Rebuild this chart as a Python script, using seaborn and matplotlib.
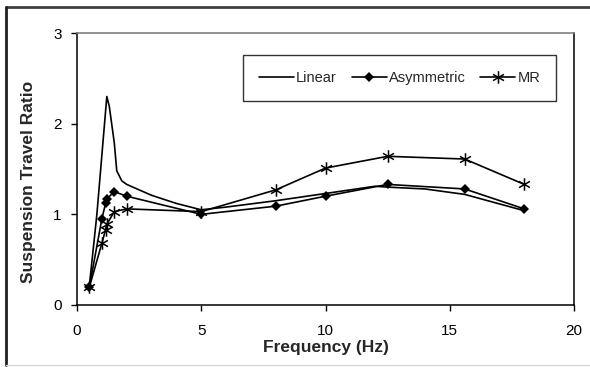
import numpy as np
import pandas as pd
import matplotlib
matplotlib.use("Agg")
import matplotlib.pyplot as plt
from matplotlib.lines import Line2D
from matplotlib.path import Path
import seaborn as sns

# values
linear_f = [0.5, 0.8, 1.2, 1.3, 1.5, 1.6, 1.8, 2, 3, 4, 5, 6, 8, 10, 12, 12.5, 14, 15.6, 18]
linear_v = [0.22, 1.0, 2.3, 2.19, 1.79, 1.48, 1.37, 1.33, 1.21, 1.12, 1.05, 1.08, 1.15, 1.23, 1.31, 1.30, 1.28, 1.22, 1.04]

asym_f = [0.5, 1.0, 1.15, 1.2, 1.5, 2, 5, 8, 10, 12.5, 15.6, 18]
asym_v = [0.2, 0.95, 1.12, 1.17, 1.25, 1.2, 1.0, 1.09, 1.2, 1.33, 1.28, 1.06]

mr_f = [0.5, 1.0, 1.15, 1.2, 1.5, 2, 5, 8, 10, 12.5, 15.6, 18]
mr_v = [0.2, 0.68, 0.83, 0.89, 1.03, 1.06, 1.03, 1.27, 1.51, 1.64, 1.61, 1.33]

x_ticks = [0, 5, 10, 15, 20]
y_ticks = [0, 1, 2, 3]

sns.set_style("white")
plt.rcParams["font.family"] = ["Liberation Sans", "DejaVu Sans"]

fig = plt.figure(figsize=(5.9, 3.67), dpi=100)
ax = fig.add_axes([77 / 590, 62 / 367, 497 / 590, 272 / 367])

# chart-area border: dark top and left edges, faint bottom edge
def fig_line(x0, y0, x1, y1, color, lw):
    fig.add_artist(Line2D([x0 / 590, x1 / 590], [1 - y0 / 367, 1 - y1 / 367],
                          transform=fig.transFigure, color=color, lw=lw))

fig_line(6, 7, 590, 7, "#404040", 2)
fig_line(6, 7, 6, 365, "#202020", 2)
fig_line(6, 365, 590, 365, "#d8d8d8", 1)

# asterisk marker: vertical stroke plus two diagonals
star = [(0, -1), (0, 1), (-0.87, -0.5), (0.87, 0.5), (-0.87, 0.5), (0.87, -0.5)]
star_codes = [Path.MOVETO, Path.LINETO] * 3
star_marker = Path(star, star_codes)

sns.lineplot(x=linear_f, y=linear_v, ax=ax, color="black", lw=1.2, sort=False,
             estimator=None, label="Linear")
sns.lineplot(x=asym_f, y=asym_v, ax=ax, color="black", lw=1.2, sort=False,
             estimator=None, marker="D", markersize=5, markeredgewidth=0,
             label="Asymmetric")
sns.lineplot(x=mr_f, y=mr_v, ax=ax, color="black", lw=1.2, sort=False,
             estimator=None, marker=star_marker, markersize=9, markeredgewidth=1.1,
             markerfacecolor="none", markeredgecolor="black", label="MR")

ax.set_xlim(0, 20)
ax.set_ylim(0, 3)
ax.set_xticks(x_ticks)
ax.set_yticks(y_ticks)
ax.tick_params(axis="both", direction="out", length=4, width=1, colors="black",
               labelsize=11, pad=7, left=True, bottom=True)
ax.tick_params(axis="x", pad=10)
for s in ["left", "bottom", "right"]:
    ax.spines[s].set_color("black")
    ax.spines[s].set_linewidth(1.1)
ax.spines["top"].set_color("#808080")
ax.spines["top"].set_linewidth(1.2)

ax.set_xlabel("Frequency (Hz)", fontsize=12.5, fontweight="bold", labelpad=1)
ax.set_ylabel("Suspension Travel Ratio", fontsize=12.5, fontweight="bold")
ax.yaxis.set_label_coords(-0.0825, 0.454)

leg = ax.legend(loc="upper left", bbox_to_anchor=(166 / 497, 1 - 22 / 272), ncol=3,
                frameon=True, fancybox=False, edgecolor="black", fontsize=10.5,
                handlelength=2.4, columnspacing=1.0, handletextpad=0.15,
                borderpad=1.1, borderaxespad=0)
leg.get_frame().set_linewidth(1.0)

fig.savefig("out.png", dpi=100)
